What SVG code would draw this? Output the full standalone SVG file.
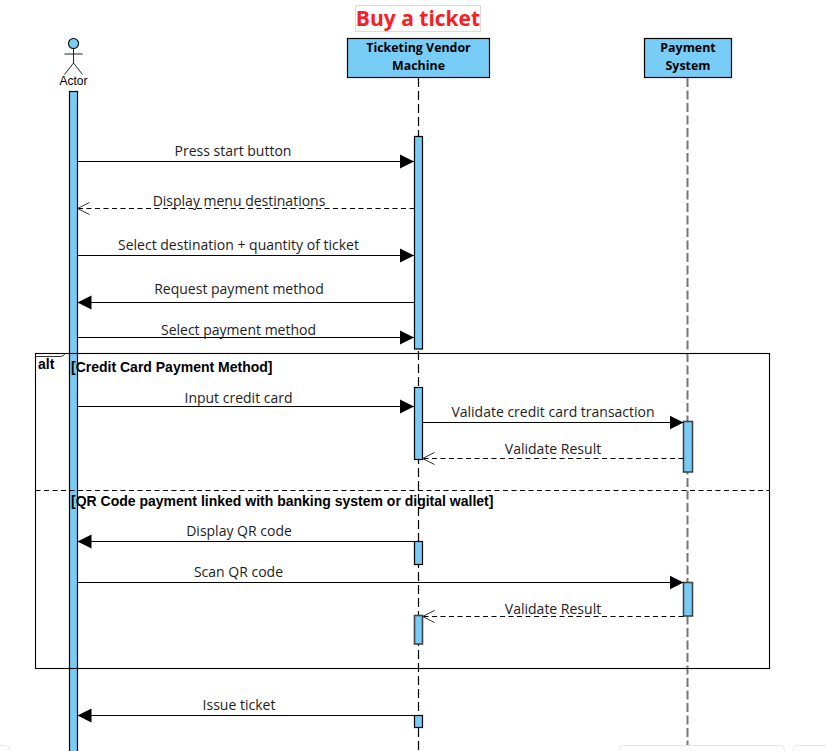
<svg xmlns="http://www.w3.org/2000/svg" width="826" height="751" viewBox="0 0 826 751">
<style>
text{font-family:"Open Sans","Noto Sans","Liberation Sans",sans-serif;fill:#1c1c1c}
.m{font-size:14px;text-anchor:middle}
.h{font-size:12.400px;font-weight:700;text-anchor:middle;fill:#000}
.g{font-family:"Liberation Sans",Arial,sans-serif;font-size:14px;font-weight:700;fill:#000}
.box{fill:#77cdf5;stroke:#000;stroke-width:1.200}
.bar{fill:#77cdf5;stroke:#000;stroke-width:1.200}
.barg{fill:#77cdf5;stroke:#444;stroke-width:1.600}
.s{stroke:#000;stroke-width:1.100;fill:none}
.d{stroke:#000;stroke-width:1.100;fill:none;stroke-dasharray:5 3.500}
.chrome{fill:#fff;stroke:#e6e6e6;stroke-width:1}
</style>
<defs>
<marker id="solid" markerUnits="userSpaceOnUse" markerWidth="15" markerHeight="15" refX="14" refY="7.500" orient="auto"><path d="M0 .5L14 7.500L0 14.500Z" fill="#000"/></marker>
<marker id="open" markerUnits="userSpaceOnUse" markerWidth="15" markerHeight="15" refX="13" refY="7.500" orient="auto"><path d="M1 1.500L13 7.500L1 13.500" fill="none" stroke="#333" stroke-width="1"/></marker>
</defs>
<rect width="826" height="751" fill="#fff"/>
<g id="ui-edge">
<rect class="chrome" x="619.500" y="745.500" width="165" height="20" rx="4"/>
<rect class="chrome" x="793.500" y="745.500" width="50" height="20" rx="4"/>
<rect class="chrome" x="-20.500" y="745.500" width="30" height="20" rx="4"/>
</g>
<g id="title">
<rect x="355.500" y="5.500" width="125" height="26" fill="#fff" stroke="#dcdcdc" stroke-width="1"/>
<text x="418" y="26" font-size="21" font-weight="700" text-anchor="middle" style="fill:#fb1d24">Buy a ticket</text>
</g>
<g id="lifelines">
<path d="M418.500 78V751" stroke="#000" stroke-width="1.200" stroke-dasharray="9 4" fill="none"/>
<path d="M687.500 78V745" stroke="#777" stroke-width="2" stroke-dasharray="9 3.500" fill="none"/>
</g>
<g id="actor">
<rect class="bar" x="69.500" y="91.500" width="8" height="670"/>
<circle cx="73.500" cy="43.500" r="5" fill="#77cdf5" stroke="#000" stroke-width="1.100"/>
<path d="M73.500 48.500V63M64.500 54H82.500M73.500 63L64.500 74.500M73.500 63L82.500 74.500" stroke="#222" stroke-width="1" fill="none"/>
<text x="73.500" y="85" font-size="12" text-anchor="middle" style="font-family:'Liberation Sans',Arial,sans-serif;fill:#000">Actor</text>
</g>
<g id="vendor">
<rect class="box" x="347.500" y="38.500" width="142" height="39"/>
<text class="h" x="418.500" y="52">Ticketing Vendor</text>
<text class="h" x="418.500" y="70">Machine</text>
<rect class="bar" x="414.500" y="136.500" width="8" height="212.500"/>
<rect class="bar" x="414.500" y="387.500" width="8" height="72"/>
<rect class="bar" x="414.500" y="541.500" width="8" height="23"/>
<rect class="barg" x="414.500" y="615.500" width="8" height="28.500"/>
<rect class="bar" x="414.500" y="715.500" width="8" height="12"/>
</g>
<g id="payment">
<rect class="box" x="644.500" y="38.500" width="87" height="39"/>
<text class="h" x="688" y="52">Payment</text>
<text class="h" x="688" y="70">System</text>
<rect class="barg" x="683.500" y="421.500" width="9" height="50.500"/>
<rect class="barg" x="683.500" y="582.500" width="9" height="33.500"/>
</g>
<g id="alt-frame">
<rect class="s" x="35.500" y="353.500" width="734" height="315"/>
<path class="d" d="M35.500 490.500H769.500"/>
<path d="M36 356.500H60Q64 356.500 65 353.500" fill="none" stroke="#333" stroke-width="1"/>
<text class="g" x="38" y="369">alt</text>
<text class="g" x="71" y="372">[Credit Card Payment Method]</text>
<text class="g" x="71" y="506">[QR Code payment linked with banking system or digital wallet]</text>
</g>
<g id="connectors">
<path class="s" marker-end="url(#solid)" d="M77.500 161.500H414"/>
<path class="d" marker-end="url(#open)" d="M414.500 208.500H77.500"/>
<path class="s" marker-end="url(#solid)" d="M77.500 255.500H414"/>
<path class="s" marker-end="url(#solid)" d="M414.500 302.500H77.500"/>
<path class="s" marker-end="url(#solid)" d="M77.500 337.500H414"/>
<path class="s" marker-end="url(#solid)" d="M77.500 406.500H414"/>
<path class="s" marker-end="url(#solid)" d="M422.500 422.500H683.500"/>
<path class="d" marker-end="url(#open)" d="M683.500 458.500H422.500"/>
<path class="s" marker-end="url(#solid)" d="M414.500 541.500H77.500"/>
<path class="s" marker-end="url(#solid)" d="M77.500 582.500H683.500"/>
<path class="d" marker-end="url(#open)" d="M683.500 616.500H422.500"/>
<path class="s" marker-end="url(#solid)" d="M414.500 715.500H77.500"/>
</g>
<g id="labels">
<text class="m" x="233" y="156">Press start button</text>
<text class="m" x="239" y="206">Display menu destinations</text>
<text class="m" x="238.500" y="250">Select destination + quantity of ticket</text>
<text class="m" x="239" y="294">Request payment method</text>
<text class="m" x="238.500" y="335">Select payment method</text>
<text class="m" x="238.500" y="403">Input credit card</text>
<text class="m" x="553" y="417">Validate credit card transaction</text>
<text class="m" x="553" y="454">Validate Result</text>
<text class="m" x="239" y="536">Display QR code</text>
<text class="m" x="238.500" y="577">Scan QR code</text>
<text class="m" x="553" y="614">Validate Result</text>
<text class="m" x="239" y="710">Issue ticket</text>
</g>
</svg>
